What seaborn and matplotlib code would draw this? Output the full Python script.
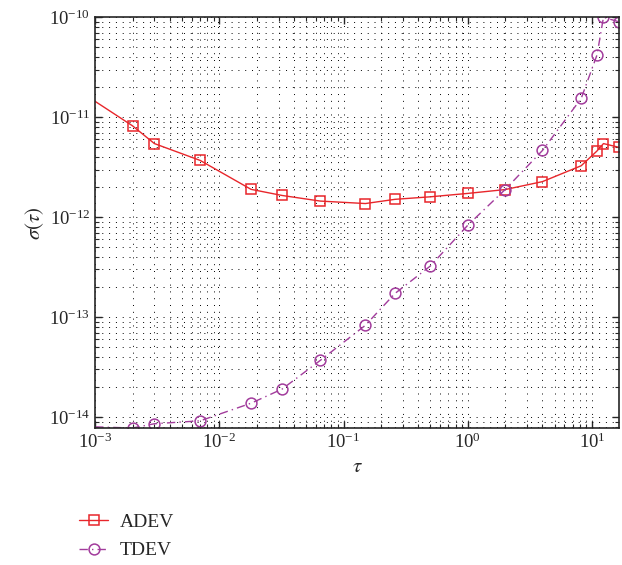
from matplotlib import pyplot as plt
import seaborn as sns
import pandas as pd
import numpy as np

# averaging time tau and deviations
tau = [1e-3, 2e-3, 3e-3, 7e-3, 0.018, 0.032, 0.065, 0.15, 0.26, 0.5, 1.0, 2.0, 4.0, 8.2, 11.0, 12.4, 16.5]
adev = [1.44e-11, 8.2e-12, 5.45e-12, 3.7e-12, 1.9e-12, 1.65e-12, 1.45e-12, 1.37e-12, 1.51e-12,
        1.6e-12, 1.73e-12, 1.89e-12, 2.27e-12, 3.27e-12, 4.6e-12, 5.45e-12, 5.0e-12]
tdev = [8.0e-15, 7.8e-15, 8.6e-15, 9.2e-15, 1.38e-14, 1.91e-14, 3.7e-14, 8.3e-14, 1.73e-13,
        3.25e-13, 8.3e-13, 1.89e-12, 4.65e-12, 1.54e-11, 4.2e-11, 1.0e-10, 9.0e-11]
# first point of each curve sits on the left edge, no marker there
marker_from = 1

sns.set_style("ticks")
plt.rcParams['font.family'] = ['Liberation Serif', 'DejaVu Serif']
plt.rcParams['mathtext.fontset'] = 'stix'

df = pd.DataFrame({'tau': tau, 'ADEV': adev, 'TDEV': tdev})

fig = plt.figure(figsize=(6.22, 5.65), dpi=100)
ax = fig.add_axes([0.153, 0.2425, 0.842, 0.727])

red = '#e8262b'
purple = '#a23c9c'

sns.lineplot(data=df, x='tau', y='ADEV', ax=ax, color=red, linewidth=1.0, sort=False,
             marker='s', markersize=6.8, markerfacecolor='none', markeredgecolor=red,
             markeredgewidth=1.1, markevery=list(range(marker_from, len(tau))), label='ADEV')
sns.lineplot(data=df, x='tau', y='TDEV', ax=ax, color=purple, linewidth=1.0, sort=False,
             linestyle=(0, (6, 3, 1, 3)),
             marker='o', markersize=7.8, markerfacecolor='none', markeredgecolor=purple,
             markeredgewidth=1.1, markevery=list(range(marker_from, len(tau))), label='TDEV')

ax.set_xscale('log')
ax.set_yscale('log')
ax.set_xlim(1e-3, 16.5)
ax.set_ylim(7.8e-15, 1e-10)

ax.grid(which='both', linestyle=(0, (1, 6)), color='black', linewidth=0.7)
ax.tick_params(which='both', direction='in', top=True, right=True, labelsize=13.5)
ax.tick_params(which='major', length=5, width=1.0)
ax.tick_params(which='minor', length=3, width=0.8)
for s in ax.spines.values():
    s.set_linewidth(1.2)

ax.set_xlabel(r'$\tau$', fontsize=15)
ax.set_ylabel(r'$\sigma(\tau)$', fontsize=15, labelpad=2)

ax.legend_.remove()
h, l = ax.get_legend_handles_labels()
fig.legend(h, l, loc='upper left', bbox_to_anchor=(0.115, 0.105), frameon=False,
           fontsize=14, handlelength=1.5, handletextpad=0.6, labelspacing=0.55, borderaxespad=0)

plt.savefig('out.png', dpi=100)
